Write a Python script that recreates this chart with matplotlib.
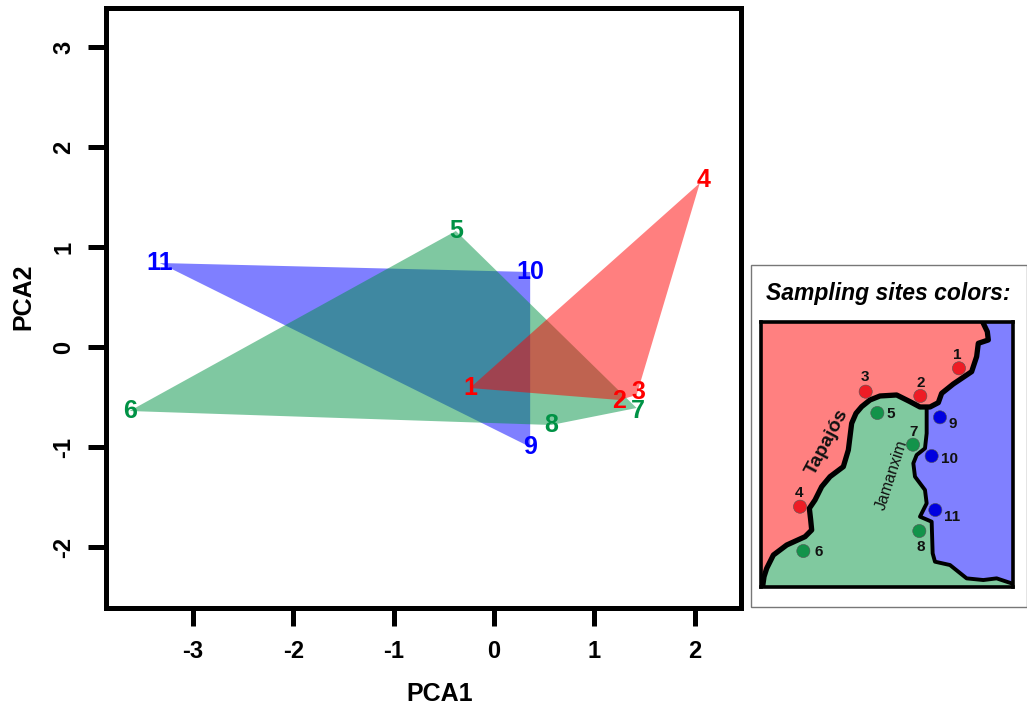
import matplotlib
matplotlib.use("Agg")
import matplotlib.pyplot as plt
from matplotlib.patches import Polygon, Rectangle

plt.rcParams['font.family'] = ['Liberation Sans', 'DejaVu Sans']
plt.rcParams['font.weight'] = 'bold'
plt.rcParams['axes.labelweight'] = 'bold'
plt.rcParams['axes.unicode_minus'] = False

W, H = 1027, 716

# PCA scores
red_x = [-0.24, 2.05, 1.42, 1.25]
red_y = [-0.41, 1.64, -0.48, -0.53]
red_ids = ['1', '4', '3', '2']
green_x = [-0.38, 1.42, 0.57, -3.63]
green_y = [1.16, -0.61, -0.78, -0.64]
green_ids = ['5', '7', '8', '6']
blue_x = [-3.33, 0.36, 0.36]
blue_y = [0.84, 0.75, -1.0]
blue_ids = ['11', '10', '9']

x_ticks = [-3, -2, -1, 0, 1, 2]
y_ticks = [-2, -1, 0, 1, 2, 3]

# map, in its own units (y down)
tapajos_x = [38, 42, 50, 70, 110, 165, 185, 182, 178, 195, 215, 240, 280, 295, 300, 305, 318, 335, 360, 390,
             440, 480, 510, 540, 565, 575, 610, 665, 680, 685, 715, 712, 700]
tapajos_y = [978, 950, 925, 885, 855, 830, 810, 780, 745, 720, 680, 650, 620, 570, 530, 490, 460, 440, 420, 408,
             405, 425, 441, 441, 428, 400, 372, 335, 290, 250, 240, 215, 190]
jamanxim_x = [530, 530, 525, 500, 490, 495, 525, 530, 510, 545, 548, 555, 600, 625, 650, 700, 740, 785]
jamanxim_y = [441, 520, 565, 585, 610, 650, 690, 730, 770, 785, 880, 905, 915, 935, 955, 960, 955, 970]
split = 24  # first Tapajos point upstream of the Jamanxim mouth

site_ids = ['1', '2', '3', '4', '5', '6', '7', '8', '9', '10', '11']
site_x = [627, 511, 347, 150, 382, 160, 489, 508, 570, 545, 556]
site_y = [325, 408, 395, 740, 459, 873, 554, 813, 472, 588, 750]
site_lx = [622, 511, 345, 147, 423, 205, 490, 511, 607, 600, 607]
site_ly = [285, 370, 352, 700, 462, 875, 515, 860, 493, 598, 772]

RED = '#ff0000'
GREEN = '#009245'
BLUE = '#0000ff'
site_col = ['#ee1c25'] * 4 + ['#12934a'] * 4 + ['#0000e0'] * 3
nudge = {'4': (2.5, 2), '3': (1, 2), '7': (1, -2), '2': (0, -0.5)}


def box(l, t, r, b):
    # pixel box to figure fractions
    return [l / W, 1 - b / H, (r - l) / W, (b - t) / H]


fig = plt.figure(figsize=(W / 100, H / 100), dpi=100)
ax = fig.add_axes(box(106, 8, 741, 608))
ax.set_xlim(-3.865, 2.46)
ax.set_ylim(-2.61, 3.39)

# blue goes first, red last: that gives the teal and brown overlaps
for xs, ys, ids, col in [(blue_x, blue_y, blue_ids, BLUE),
                         (green_x, green_y, green_ids, GREEN),
                         (red_x, red_y, red_ids, RED)]:
    ax.add_patch(Polygon(list(zip(xs, ys)), closed=True, facecolor=col, alpha=0.5, edgecolor='none'))
    for x, y, s in zip(xs, ys, ids):
        ax.annotate(s, (x, y), xytext=nudge.get(s, (0, 0)), textcoords='offset points', color=col,
                    fontsize=18, ha='center', va='center', zorder=5)

ax.set_xticks(x_ticks)
ax.set_yticks(y_ticks)
ax.tick_params(axis='x', width=3.6, length=13, labelsize=17, pad=10)
ax.tick_params(axis='y', width=3.6, length=13, labelsize=17, pad=9, labelrotation=90)
for lab in ax.get_yticklabels():
    lab.set_va('center')
for sp in ax.spines.values():
    sp.set_linewidth(3.6)
ax.set_xlabel('PCA1', fontsize=18, labelpad=14, x=0.526)
ax.set_ylabel('PCA2', fontsize=18, labelpad=12, y=0.518)

# legend box with the map
fig.add_artist(Rectangle((751 / W, 1 - 607 / H), 276 / W, 342 / H, transform=fig.transFigure,
                         facecolor='white', edgecolor='#777777', linewidth=1, zorder=-1))
fig.text(888 / W, 1 - 293 / H, 'Sampling sites colors:', fontsize=16.5, style='italic',
         ha='center', va='center')

m = fig.add_axes(box(760.7, 322.3, 1013.3, 586.7))
m.set_xlim(32, 790)
m.set_ylim(980, 187)
m.set_xticks([])
m.set_yticks([])
m.set_facecolor('#80c99f')
for sp in m.spines.values():
    sp.set_linewidth(2.6)

red_poly = [(32, 187), (700, 187)] + list(zip(tapajos_x[::-1], tapajos_y[::-1])) + [(32, 980)]
blue_poly = ([(700, 187), (790, 187), (790, 975)] + list(zip(jamanxim_x[::-1], jamanxim_y[::-1]))
             + list(zip(tapajos_x[split:], tapajos_y[split:])))
m.add_patch(Polygon(red_poly, closed=True, facecolor='#ff8080', edgecolor='none'))
m.add_patch(Polygon(blue_poly, closed=True, facecolor='#8080ff', edgecolor='none'))
m.plot(tapajos_x, tapajos_y, color='black', lw=3.8, solid_joinstyle='round')
m.plot(jamanxim_x, jamanxim_y, color='black', lw=2.8, solid_joinstyle='round')

m.scatter(site_x, site_y, s=90, c=site_col, edgecolors='#555555', linewidths=0.4, zorder=3)
for x, y, s in zip(site_lx, site_ly, site_ids):
    m.text(x, y, s, fontsize=11, ha='center', va='center', color='#111111')
m.text(233, 545, 'Tapajós', fontsize=14, rotation=62, ha='center', va='center', color='#111111')
m.text(425, 645, 'Jamanxim', fontsize=11.5, rotation=72, ha='center', va='center',
       color='#111111', fontweight='normal')

fig.savefig('out.png', dpi=100)
